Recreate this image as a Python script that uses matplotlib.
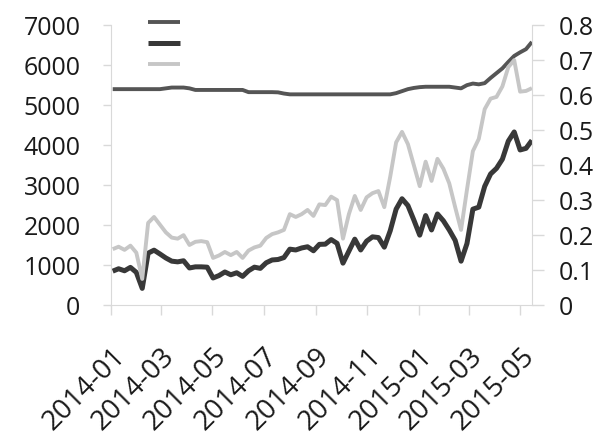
import matplotlib
matplotlib.use("Agg")
import matplotlib.pyplot as plt
import matplotlib.dates as mdates
from matplotlib.ticker import MultipleLocator, FuncFormatter
import numpy as np
import pandas as pd

# weekly data, 2014-01-03 .. 2015-05-15
datas = pd.date_range("2014-01-03", periods=72, freq="7D")

# dark thick line (left axis)
serieA = [850, 910, 860, 945, 820, 420, 1300, 1375, 1280, 1180,
          1100, 1083, 1110, 930, 958, 958, 950, 680, 740, 830,
          760, 810, 720, 860, 950, 920, 1060, 1130, 1142, 1190,
          1400, 1380, 1430, 1460, 1360, 1520, 1525, 1640, 1545, 1050,
          1350, 1650, 1380, 1600, 1708, 1690, 1450, 1860, 2400, 2660,
          2490, 2130, 1750, 2240, 1880, 2280, 2110, 1880, 1620, 1100,
          1540, 2400, 2450, 2970, 3280, 3420, 3650, 4100, 4330, 3880,
          3920, 4120]

# upper grey line (left axis)
serieC = [5400, 5400, 5400, 5400, 5400, 5400, 5400, 5400, 5400, 5420,
          5440, 5440, 5440, 5420, 5380, 5380, 5380, 5380, 5380, 5380,
          5380, 5380, 5380, 5325, 5325, 5325, 5325, 5325, 5320, 5290,
          5270, 5270, 5270, 5270, 5270, 5270, 5270, 5270, 5270, 5270,
          5270, 5270, 5270, 5270, 5270, 5270, 5270, 5270, 5300, 5350,
          5400, 5430, 5450, 5460, 5460, 5460, 5460, 5460, 5440, 5420,
          5500, 5540, 5520, 5550, 5680, 5800, 5920, 6080, 6230, 6320,
          6400, 6580]

# light grey line (right axis)
serieB = [0.160, 0.167, 0.158, 0.170, 0.150, 0.075, 0.235, 0.252, 0.230, 0.208,
          0.193, 0.190, 0.200, 0.172, 0.181, 0.183, 0.180, 0.135, 0.142, 0.152,
          0.143, 0.152, 0.135, 0.156, 0.165, 0.170, 0.192, 0.203, 0.208, 0.215,
          0.260, 0.252, 0.260, 0.272, 0.255, 0.288, 0.286, 0.310, 0.300, 0.190,
          0.260, 0.312, 0.272, 0.308, 0.320, 0.326, 0.280, 0.367, 0.465, 0.495,
          0.460, 0.400, 0.340, 0.410, 0.355, 0.418, 0.390, 0.348, 0.280, 0.215,
          0.330, 0.440, 0.475, 0.560, 0.590, 0.595, 0.625, 0.680, 0.700, 0.610,
          0.612, 0.620]

legendas = ["", "", ""]

plt.rcParams["font.family"] = ["Open Sans", "DejaVu Sans"]

fig = plt.figure(figsize=(6.1, 4.41), dpi=100)
ax = fig.add_axes([0.182, 0.308, 0.690, 0.635])
ax2 = ax.twinx()

lC, = ax.plot(datas, serieC, color="#555555", lw=2.8, solid_capstyle="butt")
lA, = ax.plot(datas, serieA, color="#383838", lw=3.6, solid_capstyle="butt")
lB, = ax2.plot(datas, serieB, color="#c6c6c6", lw=2.8, solid_capstyle="butt")

ax.set_ylim(0, 7000)
ax.yaxis.set_major_locator(MultipleLocator(1000))
ax2.set_ylim(0, 0.8)
ax2.yaxis.set_major_locator(MultipleLocator(0.1))
ax2.yaxis.set_major_formatter(FuncFormatter(lambda v, p: "%g" % round(v, 1)))

ax.set_xlim(pd.Timestamp("2014-01-01"), datas[-1])
ax.xaxis.set_major_locator(mdates.MonthLocator(bymonth=[1, 3, 5, 7, 9, 11]))
ax.xaxis.set_major_formatter(mdates.DateFormatter("%Y-%m"))

cinza = "#d9d9d9"
for a in (ax, ax2):
    for s in a.spines.values():
        s.set_visible(False)
    a.tick_params(colors=cinza, labelcolor="#1a1a1a", labelsize=18, width=1)
ax.spines["left"].set_visible(True)
ax.spines["left"].set_color(cinza)
ax.spines["bottom"].set_visible(True)
ax.spines["bottom"].set_color(cinza)
ax2.spines["right"].set_visible(True)
ax2.spines["right"].set_color(cinza)

ax.tick_params(axis="y", length=6, pad=16)
ax2.tick_params(axis="y", length=8.5, pad=11)
ax.tick_params(axis="x", length=7, pad=20, labelsize=20)
for t in ax.get_xticklabels():
    t.set_rotation(45)
    t.set_ha("right")
    t.set_va("top")
    t.set_rotation_mode("anchor")

ax.legend([lC, lA, lB], legendas, loc="upper left", bbox_to_anchor=(0.07, 1.06),
          frameon=False, fontsize=11, handlelength=2.1, labelspacing=0.40,
          borderpad=0, handletextpad=0.3)

fig.savefig("out.png", dpi=100)
